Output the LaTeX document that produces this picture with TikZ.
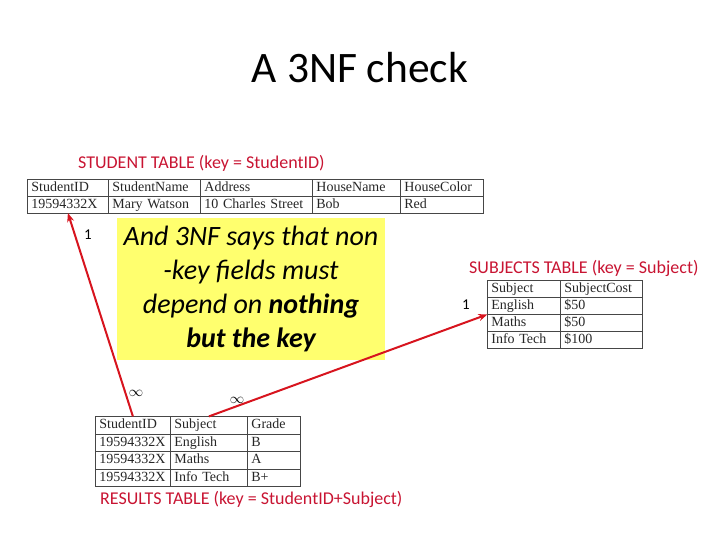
\documentclass[tikz,border=0pt]{standalone}
\usepackage{fontspec}
\setmainfont{Carlito}
\newfontfamily\tabfont{Liberation Serif}
\usetikzlibrary{matrix,arrows.meta}
\definecolor{lblred}{RGB}{200,20,50}
\definecolor{arrred}{RGB}{215,20,30}
\definecolor{noteyel}{RGB}{255,255,110}
\definecolor{gridgray}{RGB}{70,70,70}
\tikzset{
  tbl/.style={matrix of nodes, inner sep=0pt, outer sep=0pt, anchor=north west,
    row sep=-0.8pt, column sep=-0.8pt,
    nodes={draw=gridgray, line width=0.8pt, inner xsep=4pt, inner ysep=0pt,
      minimum height=#1, text height=9.5pt, text depth=2.5pt, align=left,
      font=\tabfont\fontsize{14}{15}\selectfont, text=black!85}},
  tbllabel/.style={text=lblred, font=\fontsize{18}{20}\selectfont, anchor=west, inner sep=0pt},
  rel/.style={draw=arrred, line width=2pt, -{Stealth[length=9pt,width=7pt]}},
  card/.style={font=\fontsize{15}{16}\selectfont, inner sep=0pt}
}
\begin{document}
\begin{tikzpicture}[x=1pt,y=-1pt]
\useasboundingbox (0,0) rectangle (720,540);
% title
\node (title) at (360,68) {\fontsize{43.5}{48}\selectfont A 3NF check};
% student table
\node[tbllabel] (slbl) at (78,163) {STUDENT TABLE (key = StudentID)};
\matrix (s) at (27,179) [tbl=16.8pt,
  column 1/.style={nodes={text width=73pt}},
  column 2/.style={nodes={text width=84pt}},
  column 3/.style={nodes={text width=104pt}},
  column 4/.style={nodes={text width=80pt}},
  column 5/.style={nodes={text width=75pt}}] {
  StudentID & StudentName & Address & HouseName & HouseColor \\
  19594332X & Mary Watson & 10 Charles Street & Bob & Red \\
};
% note
\node[fill=noteyel, minimum width=268pt, minimum height=142pt, inner sep=0pt] (note) at (251,289) {};
\node[align=center, font=\fontsize{28}{34}\selectfont\itshape] (notetxt) at (note.center)
  {And 3NF says that non\\-key fields must\\depend on \textbf{nothing}\\\textbf{but the key}};
% subjects table
\node[tbllabel] (sublbl) at (469,268) {SUBJECTS TABLE (key = Subject)};
\matrix (sub) at (487,280) [tbl=17pt,
  column 1/.style={nodes={text width=65pt}},
  column 2/.style={nodes={text width=74pt}}] {
  Subject & SubjectCost \\
  English & \$50 \\
  Maths & \$50 \\
  Info Tech & \$100 \\
};
% results table
\matrix (r) at (95,416) [tbl=17.5pt,
  column 1/.style={nodes={text width=67pt}},
  column 2/.style={nodes={text width=69pt}},
  column 3/.style={nodes={text width=45pt}}] {
  StudentID & Subject & Grade \\
  19594332X & English & B \\
  19594332X & Maths & A \\
  19594332X & Info Tech & B+ \\
};
\node[tbllabel] (rlbl) at (100,499) {RESULTS TABLE (key = StudentID+Subject)};
% relationships
\draw[rel] (r-1-1.north) -- (s-2-1.south);
\draw[rel] (r-1-2.north) -- (sub-2-1.south west);
\node[card] (c1) at (88,235) {1};
\node[card] (c2) at (466,305) {1};
\node[card] (c3) at (136,393) {$\infty$};
\node[card] (c4) at (237,400) {$\infty$};
\end{tikzpicture}
\end{document}
